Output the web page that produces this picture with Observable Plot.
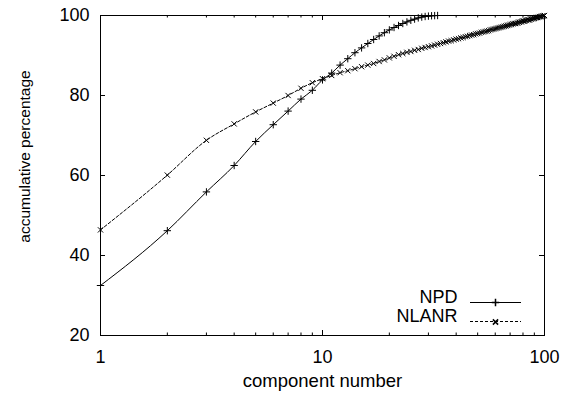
<!DOCTYPE html>
<html>
<head>
<meta charset="utf-8">
<script src="https://cdn.jsdelivr.net/npm/d3@7"></script>
<script src="https://cdn.jsdelivr.net/npm/@observablehq/plot@0.6"></script>
<style>
  html, body { margin: 0; padding: 0; background: white; }
</style>
</head>
<body>
<div id="chart"></div>
<script>
// ---- data ----
const npdX = [1,2,3,4,5,6,7,8,9,10,11,12,13,14,15,16,17,18,19,20,21,22,23,24,25,26,27,28,29,30,31,32,33];
const npdY = [32.5,46.2,55.9,62.5,68.5,72.7,76.1,79.1,81.3,83.9,85.6,87.6,89.2,90.7,91.9,93.0,94.0,94.9,95.7,96.4,97.0,97.5,98.0,98.4,98.8,99.1,99.4,99.6,99.75,99.85,99.93,99.97,100.0];

const nlanrX = d3.range(1, 101);
const nlanrY = [46.4,60.1,68.8,72.9,75.9,78.1,80.0,81.8,83.2,84.2,
  85.0,85.7,86.2,86.7,87.2,87.6,88.0,88.5,88.9,89.4,
  89.8,90.2,90.5,90.8,91.0,91.3,91.5,91.8,92.0,92.2,
  92.4,92.6,92.8,93.0,93.2,93.4,93.6,93.7,93.9,94.1,
  94.2,94.4,94.5,94.7,94.8,95.0,95.1,95.2,95.4,95.5,
  95.6,95.8,95.9,96.0,96.1,96.2,96.4,96.5,96.6,96.7,
  96.8,96.9,97.0,97.1,97.2,97.3,97.4,97.5,97.6,97.7,
  97.8,97.9,98.0,98.0,98.1,98.2,98.3,98.4,98.5,98.6,
  98.6,98.7,98.8,98.9,98.9,99.0,99.1,99.2,99.2,99.3,
  99.4,99.5,99.5,99.6,99.7,99.7,99.8,99.9,99.9,100.0];

const seriesNames = ["NPD", "NLANR"];
const xTickLabels = [1, 10, 100];
const xMinorTicks = [2,3,4,5,6,7,8,9,20,30,40,50,60,70,80,90];
const yTicks = [20, 40, 60, 80, 100];
const xLabel = "component number";
const yLabel = "accumulative percentage";

// ---- build ----
const npd = npdX.map((x, i) => ({x, y: npdY[i]}));
const nlanr = nlanrX.map((x, i) => ({x, y: nlanrY[i]}));

const W = 569, H = 398;
const mL = 100, mR = 25, mT = 15, mB = 63;
const pw = W - mL - mR, ph = H - mT - mB;
const font = "'Liberation Sans', Arial, Helvetica, sans-serif";
const dash = "3,2";
const mr = 2.5;

const chart = Plot.plot({
  width: W,
  height: H,
  marginLeft: mL, marginRight: mR, marginTop: mT, marginBottom: mB,
  style: {fontFamily: font, fontSize: "18px", background: "white", color: "black"},
  x: {type: "log", domain: [1, 100], label: null},
  y: {domain: [20, 100], label: null},
  marks: [
    // inward ticks (gnuplot style, mirrored)
    Plot.tickX(xTickLabels, {x: d => d, insetTop: ph - 5, stroke: "black"}),
    Plot.tickX(xTickLabels, {x: d => d, insetBottom: ph - 5, stroke: "black"}),
    Plot.tickX(xMinorTicks, {x: d => d, insetTop: ph - 2.5, stroke: "black"}),
    Plot.tickX(xMinorTicks, {x: d => d, insetBottom: ph - 2.5, stroke: "black"}),
    Plot.tickY(yTicks, {y: d => d, insetRight: pw - 5, stroke: "black"}),
    Plot.tickY(yTicks, {y: d => d, insetLeft: pw - 5, stroke: "black"}),
    Plot.axisX({ticks: xTickLabels, tickSize: 0, tickPadding: 15, fontSize: 18, tickFormat: d => String(d), label: null}),
    Plot.axisY({ticks: yTicks, tickSize: 0, tickPadding: 11, fontSize: 18, tickFormat: d => String(d), label: null}),
    Plot.frame({stroke: "black", strokeWidth: 1}),
    // series
    Plot.line(npd, {x: "x", y: "y", stroke: "black", strokeWidth: 1, curve: "monotone-x"}),
    Plot.dot(npd, {x: "x", y: "y", symbol: "plus", r: mr, stroke: "black", strokeWidth: 1}),
    Plot.line(nlanr, {x: "x", y: "y", stroke: "black", strokeWidth: 1, strokeDasharray: dash, curve: "monotone-x"}),
    Plot.dot(nlanr, {x: "x", y: "y", symbol: "times", r: mr, stroke: "black", strokeWidth: 1}),
    // axis titles
    Plot.text([xLabel], {frameAnchor: "bottom", dy: 51.5, fontSize: 18.5, textAnchor: "middle", fill: "black"}),
    Plot.text([yLabel], {frameAnchor: "left", rotate: -90, dx: -75.5, dy: -19, fontSize: 15.5, textAnchor: "middle", fill: "black"}),
    // legend labels
    Plot.text([seriesNames[0]], {frameAnchor: "bottom-right", dx: -87, dy: -33, fontSize: 18, textAnchor: "end", fill: "black"}),
    Plot.text([seriesNames[1]], {frameAnchor: "bottom-right", dx: -87, dy: -13.5, fontSize: 18, textAnchor: "end", fill: "black"}),
    Plot.dot([0], {frameAnchor: "bottom-right", dx: -49, dy: -33, symbol: "plus", r: mr, stroke: "black"}),
    Plot.dot([0], {frameAnchor: "bottom-right", dx: -49, dy: -13.5, symbol: "times", r: mr, stroke: "black"})
  ]
});

// legend sample lines
const svg = d3.select(chart);
const lg = svg.append("g").attr("stroke", "black").attr("stroke-width", 1).attr("fill", "none");
lg.append("line").attr("x1", 470).attr("x2", 521).attr("y1", 302.5).attr("y2", 302.5);
lg.append("line").attr("x1", 470).attr("x2", 521).attr("y1", 321.5).attr("y2", 321.5).attr("stroke-dasharray", dash);

document.getElementById("chart").appendChild(chart);
</script>
</body>
</html>
